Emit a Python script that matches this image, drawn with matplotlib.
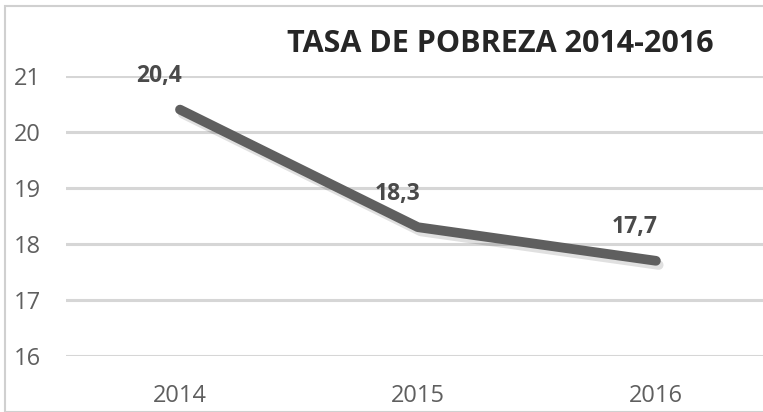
import matplotlib
matplotlib.use("Agg")
import matplotlib.pyplot as plt
import matplotlib.patheffects as pe
from matplotlib.patches import Rectangle

years = ["2014", "2015", "2016"]
tasa = [20.4, 18.3, 17.7]
labels = ["20,4", "18,3", "17,7"]
yticks = [16, 17, 18, 19, 20, 21]

plt.rcParams['font.family'] = ['Open Sans', 'DejaVu Sans']

W, H = 763, 412
fig = plt.figure(figsize=(W/100, H/100), dpi=100)
ax = fig.add_axes([66/W, 1-356/H, (763-66)/W, 280/H])

x = list(range(len(years)))
ax.plot(x, tasa, color='#5f5f5f', lw=7, solid_capstyle='round', solid_joinstyle='round',
        path_effects=[pe.SimpleLineShadow(offset=(2, -3), shadow_color='#000000', alpha=0.12),
                      pe.Normal()], zorder=3)
for xi, yi, lab in zip(x, tasa, labels):
    ax.annotate(lab, (xi, yi), xytext=(-15, 24), textcoords='offset points',
                ha='center', va='center', fontsize=16.5, fontweight='bold', color='#4a4a4a')

ax.set_xlim(-0.479, 2.45)
ax.set_ylim(16, 21)
ax.set_yticks(yticks)
ax.set_xticks(x)
ax.set_xticklabels(years)
ax.tick_params(length=0, labelsize=17, colors='#5f5f5f')
ax.tick_params(axis='y', pad=18)
ax.tick_params(axis='x', pad=20)
ax.grid(axis='y', color='#d6d6d6', lw=2.2)
ax.set_axisbelow(True)
for s in ax.spines.values():
    s.set_visible(False)

fig.text(500/W, 1-44/H, "TASA DE POBREZA 2014-2016", ha='center', va='center',
         fontsize=22, fontweight='bold', color='#262626')

fig.patches.append(Rectangle((5/W, 0), 2, 1-6/H, transform=fig.transFigure, fill=False,
                             edgecolor='#d0d0d0', lw=1.5))

fig.savefig("out.png", dpi=100)
